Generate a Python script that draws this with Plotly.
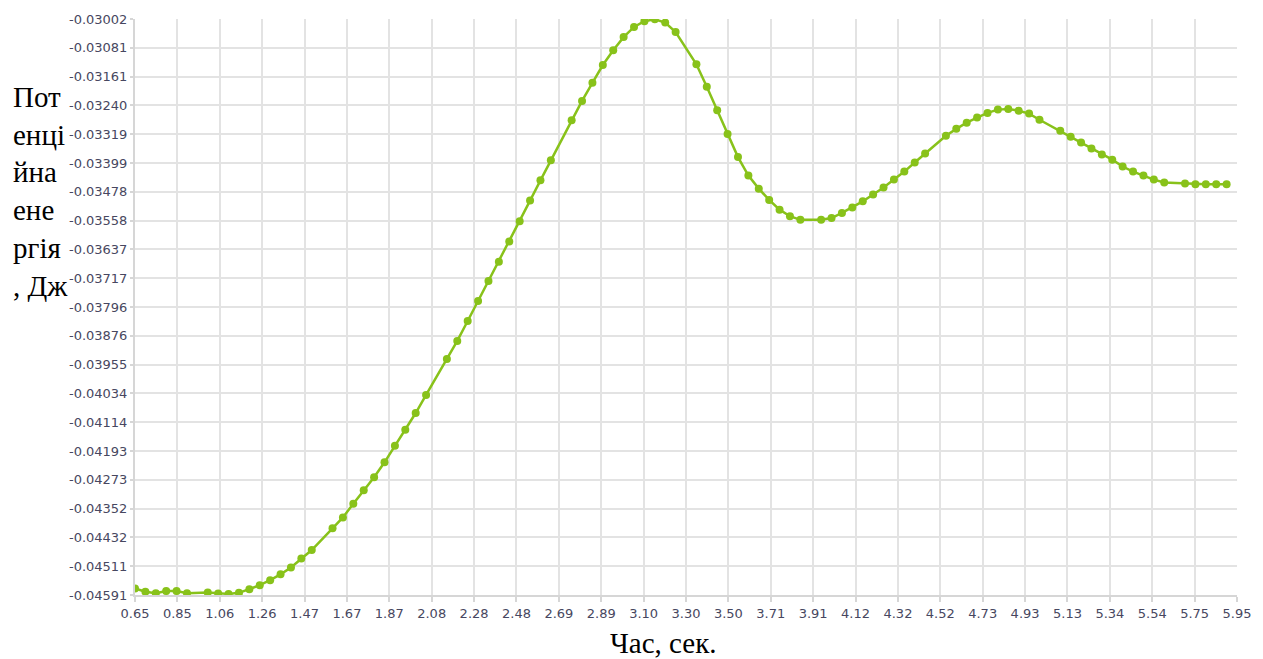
import numpy as np
import plotly.graph_objects as go

# Time, s
time_s = [0.65, 0.70, 0.75, 0.80, 0.85, 0.90, 1.00, 1.05, 1.10, 1.15, 1.20, 1.25, 1.30, 1.35,
          1.40, 1.45, 1.50, 1.60, 1.65, 1.70, 1.75, 1.80, 1.85, 1.90, 1.95, 2.00, 2.05, 2.15,
          2.20, 2.25, 2.30, 2.35, 2.40, 2.45, 2.50, 2.55, 2.60, 2.65, 2.75, 2.80, 2.85, 2.90,
          2.95, 3.00, 3.05, 3.10, 3.15, 3.20, 3.25, 3.35, 3.40, 3.45, 3.50, 3.55, 3.60, 3.65,
          3.70, 3.75, 3.80, 3.85, 3.95, 4.00, 4.05, 4.10, 4.15, 4.20, 4.25, 4.30, 4.35, 4.40,
          4.45, 4.55, 4.60, 4.65, 4.70, 4.75, 4.80, 4.85, 4.90, 4.95, 5.00, 5.10, 5.15, 5.20,
          5.25, 5.30, 5.35, 5.40, 5.45, 5.50, 5.55, 5.60, 5.70, 5.75, 5.80, 5.85, 5.90]

# Potential energy, J
energy_j = [-0.04573, -0.04582, -0.04586, -0.04580, -0.04580, -0.04586, -0.04584, -0.04587,
            -0.04588, -0.04585, -0.04575, -0.04564, -0.04550, -0.04534, -0.04515, -0.04490,
            -0.04467, -0.04407, -0.04377, -0.04339, -0.04302, -0.04266, -0.04225, -0.04179,
            -0.04135, -0.04089, -0.04039, -0.03940, -0.03890, -0.03835, -0.03780, -0.03725,
            -0.03672, -0.03616, -0.03560, -0.03503, -0.03447, -0.03392, -0.03281, -0.03228,
            -0.03178, -0.03129, -0.03088, -0.03052, -0.03024, -0.03008, -0.03003, -0.03012,
            -0.03038, -0.03127, -0.03189, -0.03254, -0.03319, -0.03383, -0.03434, -0.03470,
            -0.03501, -0.03528, -0.03546, -0.03556, -0.03556, -0.03551, -0.03537, -0.03522,
            -0.03505, -0.03486, -0.03467, -0.03445, -0.03423, -0.03398, -0.03373, -0.03324,
            -0.03305, -0.03288, -0.03274, -0.03261, -0.03252, -0.03250, -0.03255, -0.03263,
            -0.03280, -0.03310, -0.03327, -0.03343, -0.03359, -0.03376, -0.03390, -0.03409,
            -0.03423, -0.03434, -0.03445, -0.03453, -0.03456, -0.03458, -0.03458, -0.03458,
            -0.03458]

x_tick_labels = ["0.65", "0.85", "1.06", "1.26", "1.47", "1.67", "1.87", "2.08", "2.28",
                 "2.48", "2.69", "2.89", "3.10", "3.30", "3.50", "3.71", "3.91", "4.12",
                 "4.32", "4.52", "4.73", "4.93", "5.13", "5.34", "5.54", "5.75", "5.95"]

y_tick_labels = ["-0.04591", "-0.04511", "-0.04432", "-0.04352", "-0.04273", "-0.04193",
                 "-0.04114", "-0.04034", "-0.03955", "-0.03876", "-0.03796", "-0.03717",
                 "-0.03637", "-0.03558", "-0.03478", "-0.03399", "-0.03319", "-0.03240",
                 "-0.03161", "-0.03081", "-0.03002"]

x_title = "Час, сек."
y_title = "Пот<br>енці<br>йна<br>ене<br>ргія<br>, Дж"

W, H = 1263, 659
ML, MR, MT, MB = 135, 26, 17, 64
PW, PH = W - ML - MR, H - MT - MB

x_min, x_max = float(x_tick_labels[0]), float(x_tick_labels[-1])
y_min, y_max = float(y_tick_labels[0]), float(y_tick_labels[-1])
x_ticks = np.linspace(x_min, x_max, len(x_tick_labels))
y_ticks = np.linspace(y_min, y_max, len(y_tick_labels))

fig = go.Figure()
fig.add_trace(go.Scatter(
    x=time_s, y=energy_j, mode="lines+markers",
    line=dict(color="#88c21a", width=2.5),
    marker=dict(color="#88c21a", size=8),
    showlegend=False,
))

tick_font = dict(family="DejaVu Sans", size=13, color="#474760")
grid = "#e3e3e3"

fig.update_xaxes(
    range=[x_min, x_max], tickmode="array", tickvals=x_ticks, ticktext=x_tick_labels,
    showgrid=True, gridcolor=grid, gridwidth=1.6,
    showline=True, linecolor="#d6d6d6", linewidth=2,
    ticks="outside", ticklen=5, tickcolor="#d6d6d6", tickwidth=1.5,
    tickfont=tick_font, zeroline=False, mirror=False,
)
fig.update_yaxes(
    range=[y_min, y_max], tickmode="array", tickvals=y_ticks, ticktext=y_tick_labels,
    showgrid=True, gridcolor=grid, gridwidth=1.6,
    showline=True, linecolor="#d6d6d6", linewidth=2,
    ticks="outside", ticklen=3, tickcolor="#d6d6d6", tickwidth=1.5,
    tickfont=tick_font, zeroline=False,
)

title_font = dict(family="Liberation Serif", size=29, color="#000000")
fig.add_annotation(
    text=y_title, xref="paper", yref="paper",
    x=(11 - ML) / PW, y=(H - MB - 190) / PH,
    xanchor="left", yanchor="middle", align="left",
    showarrow=False, font=title_font,
)
fig.add_annotation(
    text=x_title, xref="paper", yref="paper",
    x=(663 - ML) / PW, y=(H - MB - 643) / PH,
    xanchor="center", yanchor="middle",
    showarrow=False, font=title_font,
)

fig.update_layout(
    width=W, height=H,
    margin=dict(l=ML, r=MR, t=MT, b=MB, pad=0),
    paper_bgcolor="white", plot_bgcolor="white",
)

fig.write_html("out.html")
